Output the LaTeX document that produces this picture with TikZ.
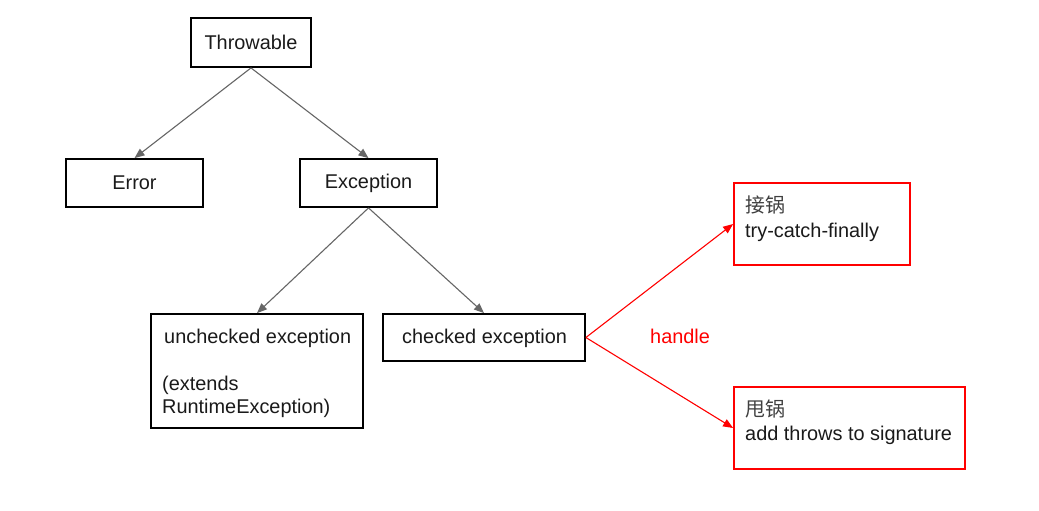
\documentclass[tikz,border=0pt]{standalone}
\usepackage{fontspec}
\setmainfont{Liberation Sans}
\newfontfamily\cjk{Noto Sans CJK SC}
\usetikzlibrary{arrows.meta}
\definecolor{arrgray}{HTML}{666666}
\definecolor{txt}{HTML}{1A1A1A}
\definecolor{cjkgray}{HTML}{404040}
\tikzset{
  box/.style={draw=black, line width=1.8pt, inner sep=0pt, text=txt},
  redbox/.style={draw=red, line width=1.8pt, inner sep=0pt},
  lbl/.style={inner sep=0pt, anchor=base west, text=txt},
  grayarrow/.style={draw=arrgray, line width=1.1pt, -{Triangle[length=10pt,width=8pt]}},
  redarrow/.style={draw=red, line width=1.1pt, -{Triangle[length=10pt,width=8pt]}},
}
\begin{document}
\begin{tikzpicture}[x=1pt,y=-1pt, font=\fontsize{19.9}{24}\selectfont]
\useasboundingbox[fill=white] (0,0) rectangle (1039,511);
\node[box, minimum width=120, minimum height=49] (thr) at (251,42.5) {Throwable};
\node[box, minimum width=137, minimum height=48] (err) at (134.5,183) {Error};
\node[box, minimum width=137, minimum height=48] (exc) at (368.5,183) {Exception};
\node[box, minimum width=212, minimum height=114] (unc) at (257,371) {};
\node[box, minimum width=202, minimum height=47] (chk) at (484,337.5) {};
\node[redbox, minimum width=176, minimum height=82] (catch) at (822,224) {};
\node[redbox, minimum width=231, minimum height=82] (throw) at (849.5,428) {};
% texts
\node[lbl] (unc1) at (164,343) {unchecked exception};
\node[lbl] (unc2) at (162,390) {(extends};
\node[lbl] (unc3) at (162,413) {RuntimeException)};
\node[lbl] (chk1) at (402,343) {checked exception};
\node[lbl, text=cjkgray] (catch1) at (745,212) {\cjk 接锅};
\node[lbl] (catch2) at (745,237) {try-catch-finally};
\node[lbl, text=cjkgray] (throw1) at (745,416) {\cjk 甩锅};
\node[lbl] (throw2) at (745,440) {add throws to signature};
\node[lbl, text=red] (handle) at (650,343) {handle};
% connectors
\draw[grayarrow] (thr.south) -- (err.north);
\draw[grayarrow] (thr.south) -- (exc.north);
\draw[grayarrow] (exc.south) -- (unc.north);
\draw[grayarrow] (exc.south) -- (chk.north);
\draw[redarrow] (chk.east) -- (catch.west);
\draw[redarrow] (chk.east) -- (throw.west);
\end{tikzpicture}
\end{document}
